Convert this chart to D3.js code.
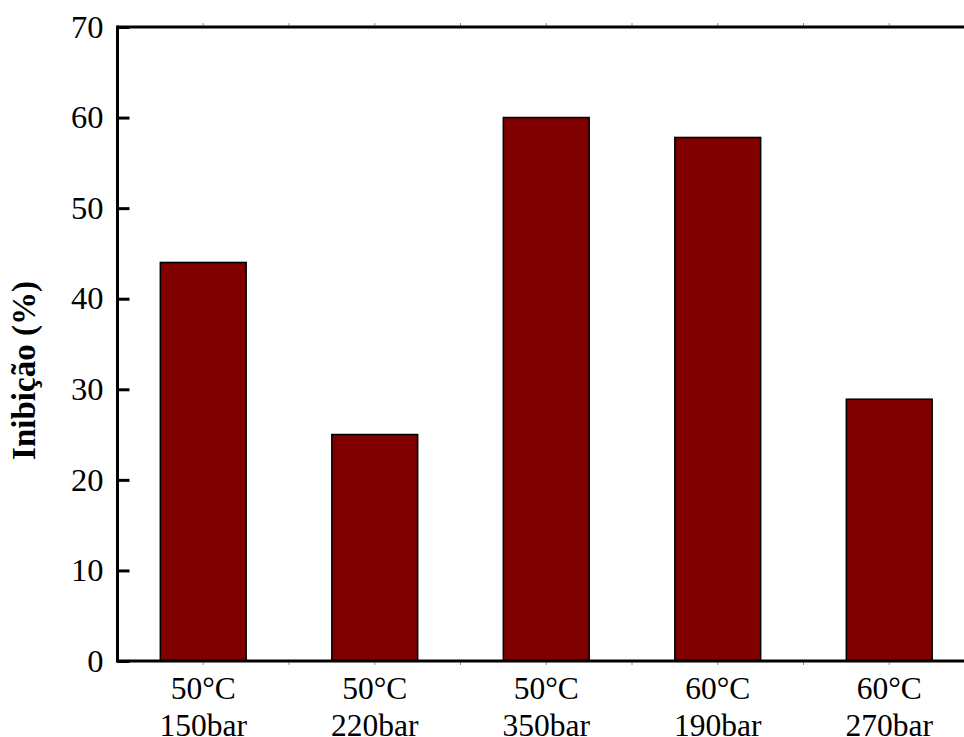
<!DOCTYPE html>
<html>
<head>
<meta charset="utf-8">
<script src="https://cdn.jsdelivr.net/npm/d3@7"></script>
<style>
  html, body { margin: 0; padding: 0; background: #fff; }
  svg { display: block; }
  text { font-family: "Liberation Serif", "Times New Roman", serif; fill: #000; }
</style>
</head>
<body>
<svg id="chart" width="964" height="737"></svg>
<script>
const categories = ["50°C|150bar", "50°C|220bar", "50°C|350bar", "60°C|190bar", "60°C|270bar"];
const values = [44, 25, 60, 57.8, 28.9];
const yTicks = [0, 10, 20, 30, 40, 50, 60, 70];
const yLabel = "Inibição (%)";

const svg = d3.select("#chart");
const mLeft = 117.5, mRight = 975, mTop = 27, mBottom = 661;

const x = d3.scaleBand().domain(categories).range([mLeft, mRight]).paddingInner(0.5).paddingOuter(0.25);
const y = d3.scaleLinear().domain([0, 70]).range([mBottom, mTop]);

// bars
svg.append("g").selectAll("rect").data(values).join("rect")
  .attr("x", (d, i) => x(categories[i]))
  .attr("y", d => y(d))
  .attr("width", x.bandwidth())
  .attr("height", d => y(0) - y(d))
  .attr("fill", "#800000")
  .attr("stroke", "#000")
  .attr("stroke-width", 1.6);

// minor ticks on top/bottom axes at half-steps
const step = x.step();
const minor = d3.range(1, 10).map(k => mLeft + k * step / 2);
const mg = svg.append("g").attr("stroke", "#888").attr("stroke-width", 1);
minor.forEach(px => {
  mg.append("line").attr("x1", px).attr("x2", px).attr("y1", mBottom + 1.5).attr("y2", mBottom + 4);
  mg.append("line").attr("x1", px).attr("x2", px).attr("y1", mTop - 1.5).attr("y2", mTop - 4);
});

// y axis (ticks inward)
const yAxis = d3.axisRight(y).tickValues(yTicks).tickSize(12).tickFormat("");
const gy = svg.append("g").attr("transform", `translate(${mLeft},0)`).call(yAxis);
gy.select(".domain").remove();
gy.selectAll(".tick line").attr("stroke", "#000").attr("stroke-width", 3);

// y tick labels
svg.append("g").selectAll("text").data(yTicks).join("text")
  .attr("x", 103.5)
  .attr("y", d => y(d))
  .attr("dy", "0.33em")
  .attr("text-anchor", "end")
  .attr("font-size", 32.5)
  .text(d => d);

// frame lines
svg.append("line").attr("x1", mLeft).attr("x2", mLeft).attr("y1", mTop - 1.5).attr("y2", mBottom + 1.5)
  .attr("stroke", "#000").attr("stroke-width", 3);
svg.append("line").attr("x1", mLeft).attr("x2", 964).attr("y1", mTop).attr("y2", mTop)
  .attr("stroke", "#000").attr("stroke-width", 3);
svg.append("line").attr("x1", mLeft).attr("x2", 964).attr("y1", mBottom).attr("y2", mBottom)
  .attr("stroke", "#000").attr("stroke-width", 3);

// x labels
const xl = svg.append("g").selectAll("text").data(categories).join("text")
  .attr("text-anchor", "middle")
  .attr("font-size", 31.5);
xl.append("tspan").attr("x", d => x(d) + x.bandwidth() / 2).attr("y", 699).text(d => d.split("|")[0]);
xl.append("tspan").attr("x", d => x(d) + x.bandwidth() / 2).attr("y", 736).text(d => d.split("|")[1]);

// y label
svg.append("text")
  .attr("transform", "translate(34.5,370.5) rotate(-90)")
  .attr("text-anchor", "middle")
  .attr("font-size", 33)
  .attr("font-weight", "bold")
  .text(yLabel);
</script>
</body>
</html>
